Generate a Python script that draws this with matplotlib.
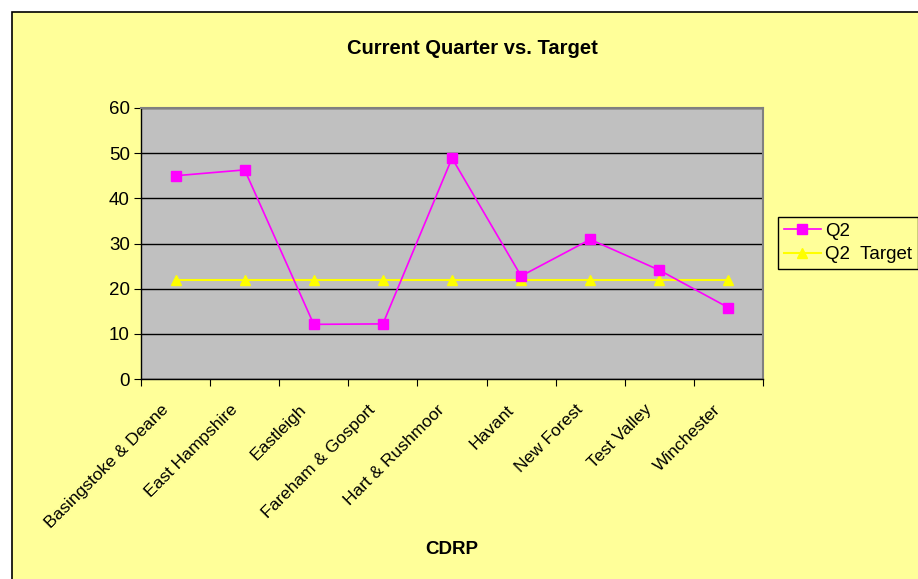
import numpy as np
import matplotlib
matplotlib.use('Agg')
import matplotlib.pyplot as plt
import matplotlib.transforms as mtrans
from matplotlib.patches import Rectangle

plt.rcParams['font.family'] = ['Liberation Sans', 'DejaVu Sans']

# data
districts = ['Basingstoke & Deane', 'East Hampshire', 'Eastleigh', 'Fareham & Gosport',
             'Hart & Rushmoor', 'Havant', 'New Forest', 'Test Valley', 'Winchester']
q2 = [45.0, 46.3, 12.1, 12.2, 48.9, 22.8, 30.9, 24.1, 15.8]
q2_target = [21.9] * 9
y_ticks = [0, 10, 20, 30, 40, 50, 60]

W, H = 918, 579
fig = plt.figure(figsize=(W / 100, H / 100), dpi=100)
fig.patch.set_facecolor('white')

# yellow chart area with black frame (runs off right/bottom edge)
fig.patches.append(Rectangle((12 / W, -0.1), 1.2, 1 - 12 / H + 0.1, transform=fig.transFigure,
                             facecolor='#FFFF99', edgecolor='black', linewidth=1.2, zorder=-1))

ax = fig.add_axes([141 / W, 1 - 379 / H, (763 - 141) / W, (379 - 108) / H])
ax.set_facecolor('#C0C0C0')
for s in ax.spines.values():
    s.set_color('#808080')
    s.set_linewidth(1.5)
ax.spines['left'].set_color('black')
ax.spines['bottom'].set_color('black')
ax.spines['left'].set_linewidth(1)
ax.spines['bottom'].set_linewidth(1)

x = np.arange(len(districts))
ax.plot(x, q2, color='#FF00FF', marker='s', markersize=6.5, linewidth=1.2, label='Q2', zorder=3)
ax.plot(x, q2_target, color='#FFFF00', marker='^', markersize=7, linewidth=1.5,
        label='Q2  Target', zorder=2)

ax.set_xlim(-0.5, len(districts) - 0.5)
ax.set_ylim(0, 60)
ax.set_yticks(y_ticks)
ax.yaxis.grid(True, color='black', linewidth=1)
ax.set_axisbelow(True)
ax.tick_params(axis='y', direction='out', length=5, labelsize=13.5, pad=3)

ax.set_xticks(np.arange(-0.5, len(districts)), labels=[])
ax.set_xticks(x, minor=True)
ax.set_xticklabels(districts, minor=True, rotation=45, ha='right', va='top',
                   rotation_mode='anchor', fontsize=12.5)
ax.tick_params(axis='x', which='major', direction='out', length=5)
ax.tick_params(axis='x', which='minor', length=0, pad=8)
# nudge the slanted labels so they end just left of each category
shift = mtrans.ScaledTranslation(-15 / 100, -12 / 100, fig.dpi_scale_trans)
for lab in ax.get_xticklabels(minor=True):
    lab.set_transform(lab.get_transform() + shift)

fig.text(472 / W, 1 - 49 / H, 'Current Quarter vs. Target', ha='center', va='center',
         fontsize=14.5, fontweight='bold')
fig.text(452 / W, 1 - 550 / H, 'CDRP', ha='center', va='center', fontsize=13.5, fontweight='bold')

leg = fig.legend(loc='upper left', bbox_to_anchor=(778 / W, 1 - 217 / H), fontsize=13.5,
                 frameon=True, fancybox=False, edgecolor='black', facecolor='#FFFF99',
                 framealpha=1, borderpad=0.3, labelspacing=0.35, handlelength=2.0,
                 handletextpad=0.2, borderaxespad=0)
leg.get_frame().set_linewidth(1)

fig.savefig('out.png', dpi=100)
